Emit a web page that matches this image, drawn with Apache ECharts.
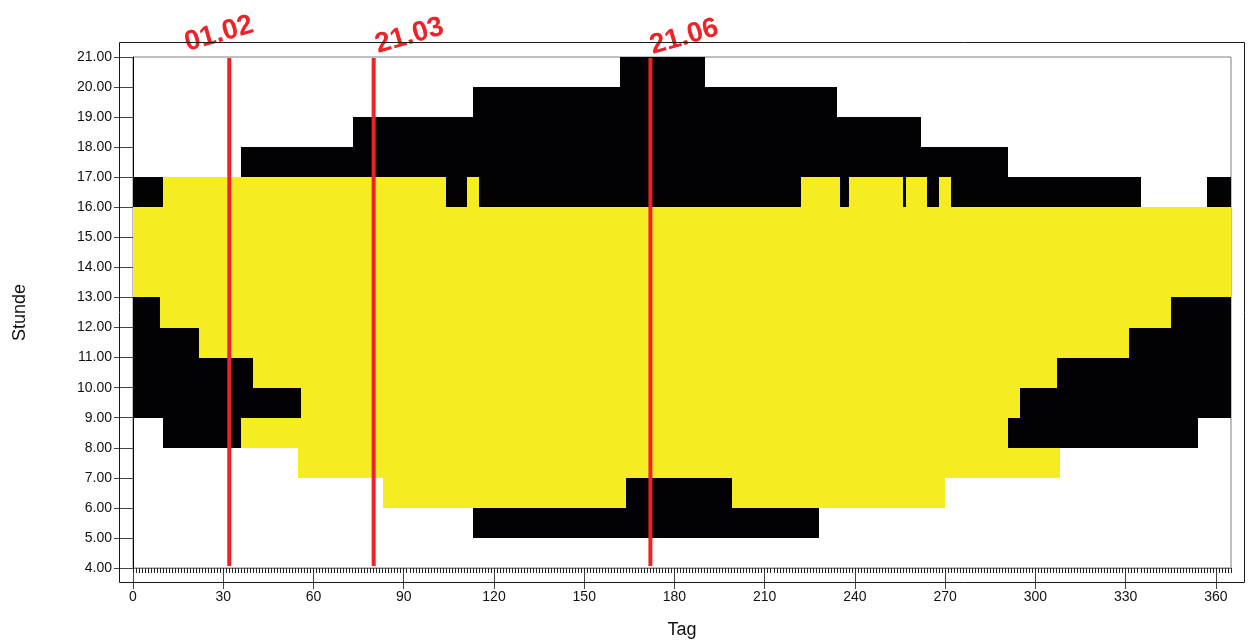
<!DOCTYPE html>
<html>
<head>
<meta charset="utf-8">
<script src="https://cdn.jsdelivr.net/npm/echarts@6/dist/echarts.min.js"></script>
<style>html,body{margin:0;padding:0;background:#fff;}#c{width:1250px;height:644px;}</style>
</head>
<body>
<div id="c"></div>
<script>
// [hour start, day start, day end]
const shadowCells = [
  [20, 162, 190],
  [19, 113, 234],
  [18, 73, 262],
  [17, 36, 291],
  [16, 0, 10], [16, 104, 111], [16, 115, 222], [16, 235, 238], [16, 256, 257],
  [16, 264, 268], [16, 272, 335], [16, 357, 365],
  [12, 0, 9], [12, 345, 365],
  [11, 0, 22], [11, 331, 365],
  [10, 0, 40], [10, 307, 365],
  [9, 0, 56], [9, 295, 365],
  [8, 10, 36], [8, 291, 354],
  [6, 164, 199],
  [5, 113, 228]
];
const sunCells = [
  [16, 10, 104], [16, 111, 115], [16, 222, 235], [16, 238, 256], [16, 257, 264], [16, 268, 272],
  [15, 0, 365], [14, 0, 365], [13, 0, 365],
  [12, 9, 345],
  [11, 22, 331],
  [10, 40, 307],
  [9, 56, 295],
  [8, 36, 291],
  [7, 55, 308],
  [6, 83, 164], [6, 199, 270]
];
const markDays = [32, 80, 172];
const markLabels = ['01.02', '21.03', '21.06'];
const xTickValues = [0, 30, 60, 90, 120, 150, 180, 210, 240, 270, 300, 330, 360];
const dayTicks = Array.from({length: 366}, (_, i) => i);
const yTickValues = [4,5,6,7,8,9,10,11,12,13,14,15,16,17,18,19,20,21];

const labelShift = [[-40, 0], [6, 2], [4, 3]];

const chart = echarts.init(document.getElementById('c'), null, {renderer: 'canvas'});

function cellRenderer(color) {
  return function (params, api) {
    const h = api.value(0), d0 = api.value(1), d1 = api.value(2);
    const p0 = api.coord([d0, h + 1]);
    const p1 = api.coord([d1, h]);
    const x0 = Math.round(p0[0]), y0 = Math.round(p0[1]);
    const x1 = Math.round(p1[0]), y1 = Math.round(p1[1]);
    return {
      type: 'rect',
      shape: {x: x0, y: y0, width: x1 - x0, height: y1 - y0},
      style: {fill: color}
    };
  };
}

const font = '"Liberation Sans", Arial, sans-serif';

chart.setOption({
  animation: false,
  backgroundColor: '#fff',
  grid: {left: 133, right: 19, top: 57, bottom: 75, show: true, borderColor: '#808080', borderWidth: 1},
  graphic: [{
    type: 'rect', z: 100, silent: true,
    shape: {x: 119.5, y: 42.5, width: 1125, height: 540},
    style: {fill: null, stroke: '#1a1a1a', lineWidth: 1}
  }],
  xAxis: [{
    type: 'value', min: 0, max: 365, interval: 30,
    name: 'Tag', nameLocation: 'middle', nameGap: 53,
    nameTextStyle: {fontFamily: font, fontSize: 18, color: '#111'},
    axisLine: {show: true, lineStyle: {color: '#808080', width: 1}},
    axisTick: {show: true, length: 21, customValues: xTickValues, lineStyle: {color: '#444', width: 1}},
    axisLabel: {customValues: xTickValues, margin: 22, fontFamily: font, fontSize: 14, color: '#111'},
    splitLine: {show: false}
  }, {
    type: 'value', min: 0, max: 365, position: 'bottom',
    axisLine: {show: false},
    axisTick: {show: true, length: 5, customValues: dayTicks, lineStyle: {color: '#222', width: 1}},
    axisLabel: {show: false},
    splitLine: {show: false}
  }],
  yAxis: {
    type: 'value', min: 4, max: 21, interval: 1,
    name: 'Stunde', nameLocation: 'middle', nameGap: 104,
    nameTextStyle: {fontFamily: font, fontSize: 18, color: '#111'},
    axisLine: {show: true, lineStyle: {color: '#000', width: 1}},
    axisTick: {show: true, length: 19, customValues: yTickValues, lineStyle: {color: '#444', width: 1}},
    axisLabel: {customValues: yTickValues, margin: 21, fontFamily: font, fontSize: 14, color: '#111',
      formatter: v => v.toFixed(2)},
    splitLine: {show: false}
  },
  series: [
    {type: 'custom', renderItem: cellRenderer('#f5ec22'), data: sunCells, encode: {x: [1, 2], y: 0}, z: 2},
    {type: 'custom', renderItem: cellRenderer('#020204'), data: shadowCells, encode: {x: [1, 2], y: 0}, z: 3},
    {
      type: 'custom', z: 10, clip: false,
      data: markDays.map((d, i) => [d, i]),
      renderItem: function (params, api) {
        const d = api.value(0), i = api.value(1);
        const top = api.coord([d, 21]);
        const bot = api.coord([d, 4]);
        return {
          type: 'group',
          children: [{
            type: 'line',
            shape: {x1: top[0], y1: top[1] + 1, x2: bot[0], y2: bot[1] - 2},
            style: {stroke: '#ee2227', lineWidth: 4}
          }, {
            type: 'text',
            x: top[0] + labelShift[i][0], y: top[1] + labelShift[i][1],
            rotation: 16 * Math.PI / 180,
            style: {text: markLabels[i], fill: '#ee2227', font: 'bold 28px ' + font,
              align: 'left', verticalAlign: 'bottom'}
          }]
        };
      }
    }
  ]
});
</script>
</body>
</html>
